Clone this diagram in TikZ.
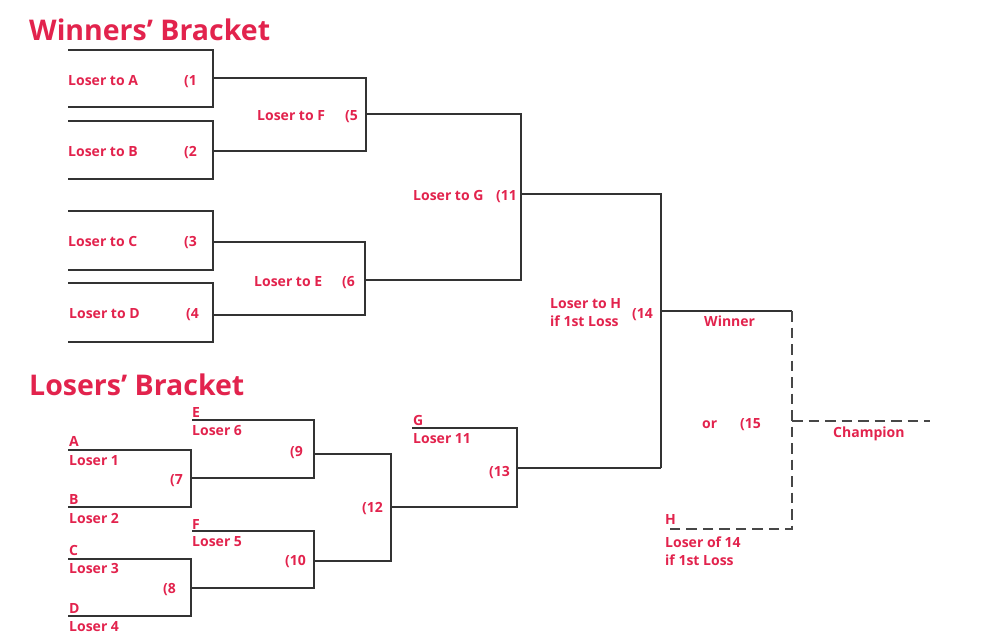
\documentclass[tikz,border=0pt]{standalone}
\usepackage{fontspec}
\setmainfont{Open Sans}
\definecolor{lbl}{HTML}{E2234D}
\definecolor{ln}{HTML}{333333}
\tikzset{
  lab/.style={anchor=base west, inner sep=0pt, text=lbl, font=\bfseries\fontsize{14}{15}\selectfont},
  ttl/.style={anchor=base west, inner sep=0pt, text=lbl, font=\bfseries\fontsize{28.5}{31}\selectfont},
  wire/.style={draw=ln, line width=1.6pt},
  dwire/.style={draw=ln!90, line width=1.6pt, dash pattern=on 10.5pt off 6pt}
}
\begin{document}
\begin{tikzpicture}[x=1pt,y=-1pt]
\useasboundingbox (0,0) rectangle (981,643);
% titles
\node[ttl] (tw) at (29,40) {Winners’ Bracket};
\node[ttl] (tl) at (29,395) {Losers’ Bracket};

% ---------- Winners' bracket coordinates ----------
\coordinate (g1t) at (68,50);  \coordinate (g1tr) at (213,50);
\coordinate (g1b) at (68,107); \coordinate (g1br) at (213,107);
\coordinate (g1o) at (213,78);
\coordinate (g2t) at (68,121); \coordinate (g2tr) at (213,121);
\coordinate (g2b) at (68,179); \coordinate (g2br) at (213,179);
\coordinate (g2o) at (213,151);
\coordinate (g5t) at (366,78); \coordinate (g5b) at (366,151);
\coordinate (g5o) at (366,114);
\coordinate (g3t) at (68,211); \coordinate (g3tr) at (213,211);
\coordinate (g3b) at (68,270); \coordinate (g3br) at (213,270);
\coordinate (g3o) at (213,242);
\coordinate (g4t) at (68,283); \coordinate (g4tr) at (213,283);
\coordinate (g4b) at (68,342); \coordinate (g4br) at (213,342);
\coordinate (g4o) at (213,315);
\coordinate (g6t) at (365,242); \coordinate (g6b) at (365,315);
\coordinate (g6o) at (365,280);
\coordinate (g11t) at (521,114); \coordinate (g11b) at (521,280);
\coordinate (g11o) at (521,194);
\coordinate (g14t) at (661,194); \coordinate (g14b) at (661,468);
\coordinate (g14o) at (661,311);
\coordinate (g15t) at (792,311); \coordinate (g15b) at (792,529);
\coordinate (g15o) at (792,421);
\coordinate (hl) at (664,529);
\coordinate (champ) at (930,421);

% winners lines
\draw[wire] (g1t) -- (g1tr) -- (g1br) -- (g1b);
\draw[wire] (g2t) -- (g2tr) -- (g2br) -- (g2b);
\draw[wire] (g3t) -- (g3tr) -- (g3br) -- (g3b);
\draw[wire] (g4t) -- (g4tr) -- (g4br) -- (g4b);
\draw[wire] (g1o) -- (g5t) -- (g5b) -- (g2o);
\draw[wire] (g3o) -- (g6t) -- (g6b) -- (g4o);
\draw[wire] (g5o) -- (g11t) -- (g11b) -- (g6o);
\draw[wire] (g11o) -- (g14t) -- (g14b);
\draw[wire] (g14o) -- (g15t);
\draw[dwire] (g15t) -- (g15b) -- (hl);
\draw[dwire] (g15o) -- (champ);

% ---------- Losers' bracket coordinates ----------
\coordinate (la) at (68,450);  \coordinate (lar) at (191,450);
\coordinate (lb) at (68,507);  \coordinate (lbr) at (191,507);
\coordinate (l7o) at (191,478);
\coordinate (lc) at (68,559);  \coordinate (lcr) at (191,559);
\coordinate (ld) at (68,616);  \coordinate (ldr) at (191,616);
\coordinate (l8o) at (191,588);
\coordinate (le) at (192,420); \coordinate (ler) at (314,420);
\coordinate (l9b) at (314,478); \coordinate (l9o) at (314,454);
\coordinate (lf) at (192,531); \coordinate (lfr) at (314,531);
\coordinate (l10b) at (314,588); \coordinate (l10o) at (314,561);
\coordinate (l12t) at (391,454); \coordinate (l12b) at (391,561);
\coordinate (l12o) at (391,507);
\coordinate (lg) at (412,428); \coordinate (lgr) at (517,428);
\coordinate (l13b) at (517,507); \coordinate (l13o) at (517,468);

\draw[wire] (la) -- (lar) -- (lbr) -- (lb);
\draw[wire] (lc) -- (lcr) -- (ldr) -- (ld);
\draw[wire] (le) -- (ler) -- (l9b) -- (l7o);
\draw[wire] (lf) -- (lfr) -- (l10b) -- (l8o);
\draw[wire] (l9o) -- (l12t) -- (l12b) -- (l10o);
\draw[wire] (lg) -- (lgr) -- (l13b) -- (l12o);
\draw[wire] (l13o) -- (g14b);

% ---------- winners labels ----------
\node[lab] (tA) at (68,85) {Loser to A};   \node[lab] (n1) at (184,85) {(1};
\node[lab] (tB) at (68,156) {Loser to B};  \node[lab] (n2) at (184,156) {(2};
\node[lab] (tF) at (257,120) {Loser to F}; \node[lab] (n5) at (345,120) {(5};
\node[lab] (tC) at (68,246) {Loser to C};  \node[lab] (n3) at (184,246) {(3};
\node[lab] (tD) at (69,318) {Loser to D};  \node[lab] (n4) at (186,318) {(4};
\node[lab] (tE) at (254,286) {Loser to E}; \node[lab] (n6) at (342,286) {(6};
\node[lab] (tG) at (413,200) {Loser to G}; \node[lab] (n11) at (496,200) {(11};
\node[lab] (tH1) at (550,308) {Loser to H};
\node[lab] (tH2) at (550,326) {if 1st Loss};
\node[lab] (n14) at (632,318) {(14};
\node[lab] (win) at (704,326) {Winner};
\node[lab] (or) at (702,428) {or};
\node[lab] (n15) at (740,428) {(15};
\node[lab] (ch) at (833,437) {Champion};
\node[lab] (hH) at (665,524) {H};
\node[lab] (h1) at (665,547) {Loser of 14};
\node[lab] (h2) at (665,565) {if 1st Loss};

% ---------- losers labels ----------
\node[lab] (lA) at (69,446) {A};  \node[lab] (l1) at (69,465) {Loser 1};
\node[lab] (lB) at (69,504) {B};  \node[lab] (l2) at (69,523) {Loser 2};
\node[lab] (lC) at (69,555) {C};  \node[lab] (l3) at (69,573) {Loser 3};
\node[lab] (lD) at (69,613) {D};  \node[lab] (l4) at (69,631) {Loser 4};
\node[lab] (n7) at (170,484) {(7};
\node[lab] (n8) at (163,593) {(8};
\node[lab] (lE) at (192,417) {E}; \node[lab] (l6) at (192,435) {Loser 6};
\node[lab] (n9) at (290,456) {(9};
\node[lab] (lF) at (192,529) {F}; \node[lab] (l5) at (192,546) {Loser 5};
\node[lab] (n10) at (285,565) {(10};
\node[lab] (n12) at (362,512) {(12};
\node[lab] (lG) at (413,425) {G}; \node[lab] (l11) at (413,443) {Loser 11};
\node[lab] (n13) at (489,476) {(13};
\end{tikzpicture}
\end{document}
